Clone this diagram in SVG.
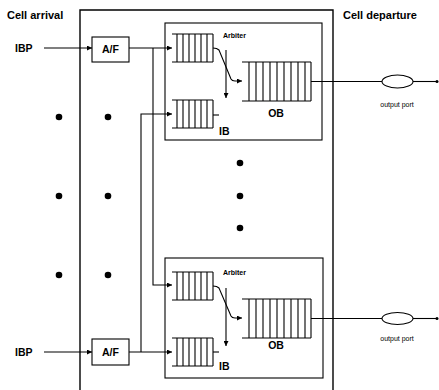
<svg xmlns="http://www.w3.org/2000/svg" width="439" height="390" viewBox="0 0 439 390">
<defs>
<marker id="ah" viewBox="0 0 6 6" refX="6" refY="3" markerWidth="5" markerHeight="5" orient="auto" markerUnits="userSpaceOnUse">
<path d="M0,0 L6,3 L0,6 Z" fill="#000"/>
</marker>
<g id="q6">
<path d="M0,0 H41 M0,28 H41 M5,0 V28 M11,0 V28 M17,0 V28 M23,0 V28 M29,0 V28 M35,0 V28 M41,0 V28" fill="none" stroke="#000" stroke-width="1.1"/>
</g>
<g id="q10">
<path d="M0,0 H69 M0,39 H69 M7,0 V39 M14,0 V39 M21,0 V39 M28,0 V39 M35,0 V39 M42,0 V39 M49,0 V39 M56,0 V39 M63,0 V39 M69,0 V39" fill="none" stroke="#000" stroke-width="1.1"/>
</g>
</defs>
<style>
.ln{fill:none;stroke:#000;stroke-width:1.1}
.bx{fill:none;stroke:#000;stroke-width:1.4}
.t{font-family:"Liberation Sans",Arial,sans-serif;font-weight:bold;fill:#000}
.s{font-family:"Liberation Sans",Arial,sans-serif;fill:#000}
.dot{fill:#000}
</style>
<rect width="439" height="390" fill="#fff"/>

<g id="labels">
<text class="t" x="7" y="19" font-size="11">Cell arrival</text>
<text class="t" x="343" y="19" font-size="11">Cell departure</text>
</g>

<g id="switch-frame">
<path class="bx" d="M80,390 V10 H333 V390"/>
</g>

<g id="ibp-top"><text class="t" x="15" y="52" font-size="10.5">IBP</text></g>
<g id="ibp-bottom"><text class="t" x="15" y="356" font-size="10.5">IBP</text></g>

<g id="af-top">
<rect class="ln" x="92" y="37" width="37" height="25"/>
<text class="t" x="110.5" y="53" font-size="10.5" text-anchor="middle">A/F</text>
</g>
<g id="af-bottom">
<rect class="ln" x="92" y="339" width="37" height="26"/>
<text class="t" x="110.5" y="356" font-size="10.5" text-anchor="middle">A/F</text>
</g>

<g id="module-top">
<rect class="ln" x="165" y="23" width="157" height="117"/>
<use href="#q6" x="172" y="34"/>
<use href="#q6" x="172" y="100"/>
<path class="ln" d="M213,115 H219"/>
<use href="#q10" x="242" y="62"/>
<text class="t" x="223" y="38" font-size="7">Arbiter</text>
<text class="t" x="276" y="117" font-size="10.5" text-anchor="middle">OB</text>
<text class="t" x="219" y="135" font-size="10.5">IB</text>
<path class="ln" d="M226,50 V98" marker-end="url(#ah)"/>
<path class="ln" d="M213,48 Q217,48 219,50 L231,79 Q232,81 235,81 H242" marker-end="url(#ah)"/>
</g>

<g id="module-bottom">
<rect class="ln" x="165" y="258" width="158" height="120"/>
<use href="#q6" x="172" y="272"/>
<use href="#q6" x="172" y="338"/>
<path class="ln" d="M213,352 H219"/>
<use href="#q10" x="242" y="299"/>
<text class="t" x="223" y="275" font-size="7">Arbiter</text>
<text class="t" x="276" y="349" font-size="10.5" text-anchor="middle">OB</text>
<text class="t" x="219" y="370" font-size="10.5">IB</text>
<path class="ln" d="M226,288 V346" marker-end="url(#ah)"/>
<path class="ln" d="M213,286 Q217,286 219,288 L231,316 Q232,318 235,318 H242" marker-end="url(#ah)"/>
</g>

<g id="port-top">
<ellipse class="ln" cx="397.5" cy="81.5" rx="15.5" ry="6.5"/>
<text class="s" x="397" y="107" font-size="7" text-anchor="middle">output port</text>
<circle class="dot" cx="437" cy="81.5" r="1.5"/>
</g>
<g id="port-bottom">
<ellipse class="ln" cx="397.5" cy="318.5" rx="15.5" ry="6"/>
<text class="s" x="397" y="341" font-size="7" text-anchor="middle">output port</text>
<circle class="dot" cx="437" cy="318.5" r="1.5"/>
</g>

<g id="dots">
<circle class="dot" cx="59" cy="117" r="3.3"/>
<circle class="dot" cx="108" cy="117" r="3.3"/>
<circle class="dot" cx="59" cy="196" r="3.3"/>
<circle class="dot" cx="108" cy="196" r="3.3"/>
<circle class="dot" cx="59" cy="275" r="3.3"/>
<circle class="dot" cx="108" cy="275" r="3.3"/>
<circle class="dot" cx="240" cy="163" r="3.3"/>
<circle class="dot" cx="240" cy="196" r="3.3"/>
<circle class="dot" cx="240" cy="228" r="3.3"/>
</g>

<g id="connectors">
<path class="ln" d="M44,48 H92" marker-end="url(#ah)"/>
<path class="ln" d="M44,352 H92" marker-end="url(#ah)"/>
<path class="ln" d="M129,48 H172" marker-end="url(#ah)"/>
<path class="ln" d="M153,48 V285 H172" marker-end="url(#ah)"/>
<path class="ln" d="M129,352 H172" marker-end="url(#ah)"/>
<path class="ln" d="M141,352 V114 H172" marker-end="url(#ah)"/>
<path class="ln" d="M311,81.5 H382"/>
<path class="ln" d="M413,81.5 H437"/>
<path class="ln" d="M311,318.5 H382"/>
<path class="ln" d="M413,318.5 H437"/>
</g>
</svg>
